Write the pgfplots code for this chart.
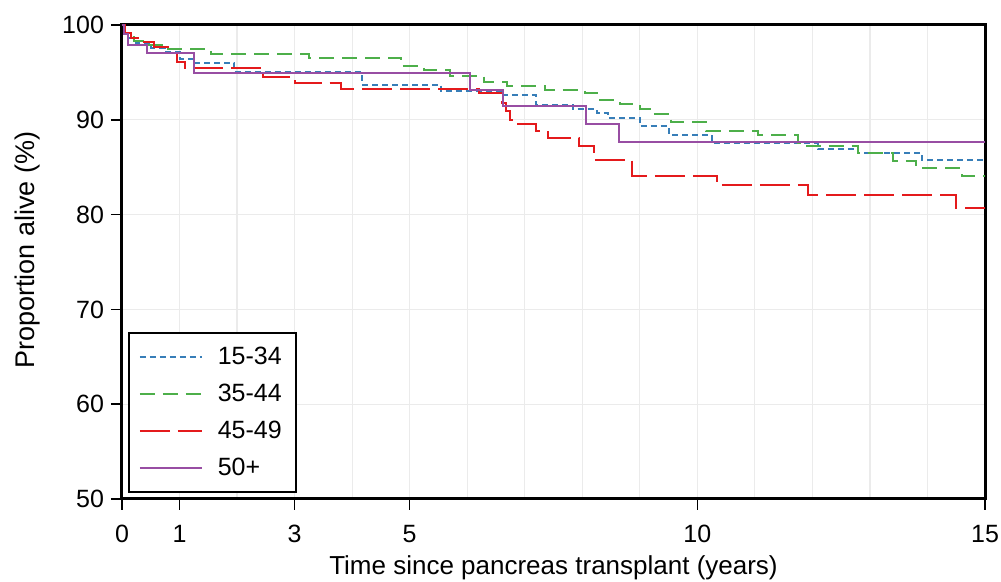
\documentclass[border=0pt]{standalone}
\usepackage{pgfplots}
\pgfplotsset{compat=1.18}
\usepackage{fontspec}
\setmainfont{Liberation Sans}

\definecolor{sblue}{HTML}{377EB8}
\definecolor{sgreen}{HTML}{4DAF4A}
\definecolor{sred}{HTML}{E41A1C}
\definecolor{spurple}{HTML}{984EA3}
\definecolor{gridgray}{HTML}{EBEBEB}

\begin{document}
\begin{tikzpicture}
\useasboundingbox (-61pt,-41.5pt) rectangle (439.5pt,249.5pt);
\begin{axis}[
    scale only axis,
    width=431.5pt, height=237pt,
    xmin=0, xmax=15,
    ymin=50, ymax=100,
    xtick={0,1,3,5,10,15},
    minor xtick={2,4,6,7,8,9,11,12,13,14},
    ytick={50,60,70,80,90,100},
    grid=both,
    major grid style={gridgray, line width=0.6pt},
    minor grid style={gridgray, line width=0.6pt},
    axis line style={black, line width=1.5pt},
    tick align=outside,
    major tick length=5.5pt,
    minor tick length=0pt,
    every tick/.style={black, line width=0.8pt},
    xtick pos=bottom, ytick pos=left,
    /pgf/number format/assume math mode=true,
    tick label style={font=\fontsize{12.5}{15}\selectfont},
    xticklabel style={yshift=-4pt},
    xlabel={Time since pancreas transplant (years)},
    ylabel={Proportion alive (\%)},
    every axis x label/.style={at={(axis description cs:0.5,0)}, anchor=base, yshift=-38pt, font=\fontsize{13}{15}\selectfont},
    every axis y label/.style={at={(axis description cs:-0.110,0.525)}, rotate=90, anchor=center, font=\fontsize{13.5}{15}\selectfont},
    legend cell align=left,
    legend image code/.code={\draw[#1] (0pt,0pt) -- (31pt,0pt);},
    legend style={at={(axis description cs:0.007,0.013)}, anchor=south west,
        draw=black, line width=0.8pt, font=\fontsize{12.5}{15}\selectfont,
        inner xsep=5pt, inner ysep=5pt, row sep=4.2pt,
        /tikz/every odd column/.append style={column sep=5.5pt}},
]

% 15-34
\addplot[const plot, sblue, line width=1pt, dash pattern=on 3pt off 2pt] coordinates {
(0,100)(0.03,99.0)(0.1,98.6)(0.25,98.1)(0.5,97.6)(0.75,97.2)(1.0,96.4)(1.27,96.0)
(1.95,95.0)(4.17,93.7)(5.55,93.0)(6.6,92.6)(7.2,91.6)(7.84,91.1)(8.25,90.7)(8.45,90.2)
(9.0,89.3)(9.5,88.4)(10.25,87.5)(12.1,86.9)(12.8,86.5)(13.9,85.8)(15,85.8)};
\addlegendentry{15-34}

% 35-44
\addplot[const plot, sgreen, line width=1pt, dash pattern=on 7.5pt off 4pt] coordinates {
(0,100)(0.04,99.2)(0.1,98.7)(0.2,98.3)(0.45,97.9)(0.75,97.5)(1.55,96.95)(3.25,96.55)
(4.85,95.65)(5.25,95.3)(5.7,94.65)(6.3,94.0)(6.7,93.6)(7.35,93.1)(8.05,92.8)(8.3,92.1)
(8.65,91.7)(9.0,91.1)(9.2,90.6)(9.55,89.8)(10.15,88.8)(11.05,88.4)(11.75,87.6)(11.9,87.2)
(12.8,86.5)(13.4,85.65)(13.8,84.95)(14.6,84.1)(15,84.1)};
\addlegendentry{35-44}

% 45-49
\addplot[const plot, sred, line width=1pt, dash pattern=on 15pt off 4pt] coordinates {
(0,100)(0.05,99.2)(0.15,98.6)(0.35,98.2)(0.55,97.7)(0.8,97.0)(0.95,96.1)(1.1,95.5)
(2.45,94.5)(3.0,93.85)(3.8,93.3)(6.2,92.8)(6.6,91.8)(6.68,90.9)(6.75,90.0)(6.85,89.6)
(7.2,88.8)(7.4,88.05)(7.95,87.2)(8.2,85.75)(8.87,84.05)(10.35,83.1)(11.93,82.1)
(14.5,80.7)(15,80.7)};
\addlegendentry{45-49}

% 50+
\addplot[const plot, spurple, line width=1pt] coordinates {
(0,100)(0.03,99.0)(0.1,97.9)(0.43,97.05)(1.25,94.9)(6.05,93.1)(6.63,91.5)(8.06,89.6)
(8.63,87.7)(15,87.7)};
\addlegendentry{50+}

\end{axis}
\end{tikzpicture}
\end{document}
